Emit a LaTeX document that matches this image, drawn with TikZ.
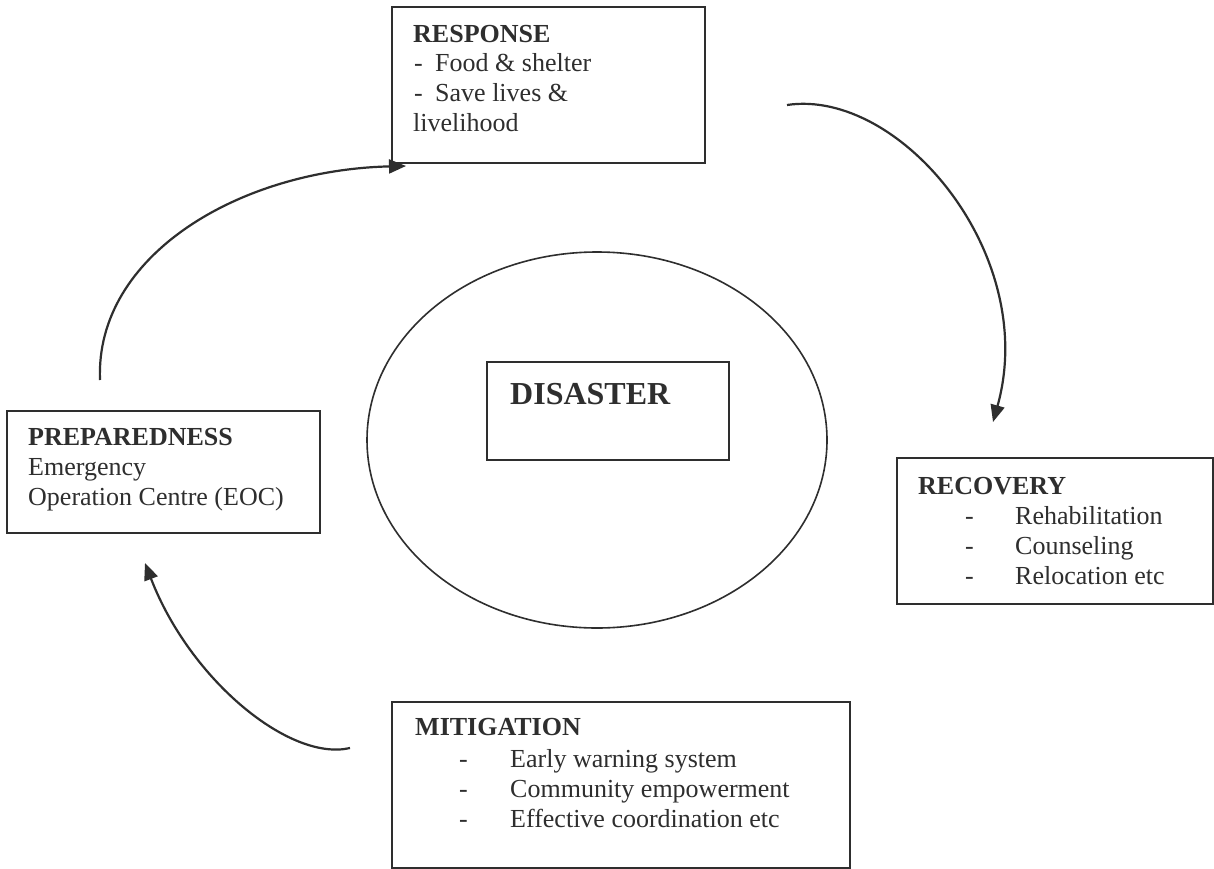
\documentclass[tikz,border=0pt]{standalone}
\usepackage{fontspec}
\setmainfont{Liberation Serif}
\usetikzlibrary{arrows.meta,shapes.geometric}
\definecolor{ink}{HTML}{2E2E2E}
\begin{document}
\begin{tikzpicture}[x=1pt,y=-1pt,
  boxshape/.style={draw=ink,line width=2pt,rectangle,inner sep=0pt},
  txt/.style={inner sep=0pt,anchor=base west,text=ink,font=\fontsize{26}{30}\selectfont},
  btxt/.style={txt,font=\fontsize{26}{30}\selectfont\bfseries},
  arr/.style={draw=ink,line width=2.2pt,-{Triangle[length=17pt,width=14pt]}}]
\useasboundingbox (0,0) rectangle (1214,869);
\fill[white] (0,0) rectangle (1214,869);

% central ellipse and disaster box
\node[draw=ink,line width=1.6pt,ellipse,minimum width=460pt,minimum height=376pt,inner sep=0pt] (ell) at (597,440) {};
\node[boxshape,minimum width=242pt,minimum height=98pt] (dis) at (608,411) {};
\node[txt,font=\fontsize{32}{36}\selectfont\bfseries] (disT) at (510,404) {DISASTER};

% response
\node[boxshape,minimum width=313pt,minimum height=156pt] (resp) at (548.5,85) {};
\node[btxt] (r0) at (413,43) {RESPONSE};
\node[txt] (r1d) at (414,72) {-};
\node[txt] (r1) at (435,72) {Food \& shelter};
\node[txt] (r2d) at (414,102) {-};
\node[txt] (r2) at (435,102) {Save lives \&};
\node[txt] (r3) at (413,132) {livelihood};

% preparedness
\node[boxshape,minimum width=313pt,minimum height=122pt] (prep) at (163.5,472) {};
\node[btxt] (p0) at (28,445) {PREPAREDNESS};
\node[txt] (p1) at (28,475) {Emergency};
\node[txt] (p2) at (28,505) {Operation Centre (EOC)};

% recovery
\node[boxshape,minimum width=316pt,minimum height=146pt] (rec) at (1055,531) {};
\node[btxt] (c0) at (918,494) {RECOVERY};
\node[txt] (c1d) at (965,524) {-};
\node[txt] (c1) at (1015,524) {Rehabilitation};
\node[txt] (c2d) at (965,554) {-};
\node[txt] (c2) at (1015,554) {Counseling};
\node[txt] (c3d) at (965,584) {-};
\node[txt] (c3) at (1015,584) {Relocation etc};

% mitigation
\node[boxshape,minimum width=458pt,minimum height=166pt] (mit) at (621,785) {};
\node[btxt] (m0) at (415,735) {MITIGATION};
\node[txt] (m1d) at (459,767) {-};
\node[txt] (m1) at (510,767) {Early warning system};
\node[txt] (m2d) at (459,797) {-};
\node[txt] (m2) at (510,797) {Community empowerment};
\node[txt] (m3d) at (459,827) {-};
\node[txt] (m3) at (510,827) {Effective coordination etc};

% connector end points
\coordinate (a1s) at (100,380);
\coordinate (a1e) at (406,166);
\coordinate (a2s) at (787,105);
\coordinate (a2e) at (993,422);
\coordinate (a3s) at (350,748);
\coordinate (a3e) at (145,563);

\draw[arr] (a1s) .. controls (95,255) and (240,170) .. (a1e);
\draw[arr] (a2s) .. controls (900,88) and (1040,255) .. (a2e);
\draw[arr] (a3s) .. controls (290,762) and (190,680) .. (a3e);
\end{tikzpicture}
\end{document}
